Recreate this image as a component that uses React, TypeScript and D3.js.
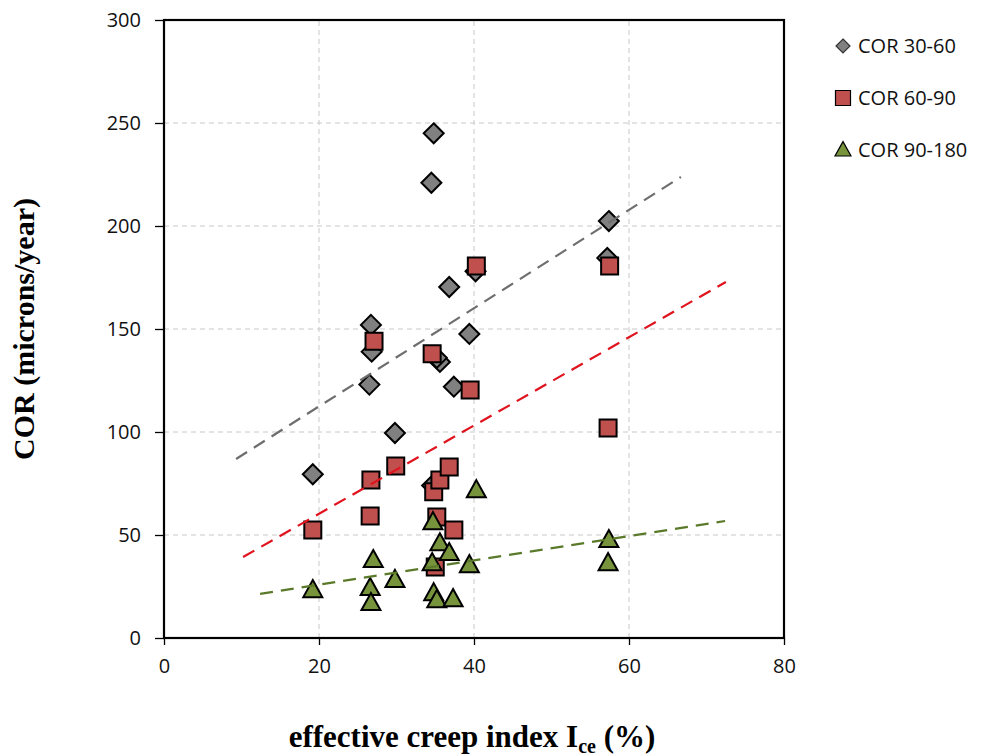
import React, { useEffect, useRef } from 'react';
import * as d3 from 'd3';

// COR 30-60 (grey diamonds)
const cor3060X = [19.2, 26.5, 26.7, 26.8, 29.8, 34.5, 34.8, 34.6, 35.6, 35.2, 36.8, 37.4, 39.4, 40.2, 57.2, 57.4];
const cor3060Y = [79.5, 123, 152, 139, 99.5, 221, 245, 74, 134, 136, 170.4, 122, 147.6, 178, 184.5, 202.4];

// COR 60-90 (red squares)
const cor6090X = [19.2, 26.6, 26.7, 27.1, 29.9, 34.6, 34.8, 35.0, 35.2, 35.6, 36.8, 37.4, 39.5, 40.3, 57.3, 57.5];
const cor6090Y = [52.4, 59.2, 76.7, 144, 83.5, 138, 71, 34.5, 58.7, 76.7, 83, 52.4, 120.4, 180.6, 101.9, 180.6];

// COR 90-180 (green triangles)
const cor90180X = [19.2, 26.6, 26.7, 27.0, 29.8, 34.6, 34.7, 34.8, 35.2, 35.6, 36.8, 37.3, 39.4, 40.3, 57.3, 57.4];
const cor90180Y = [23.3, 24.3, 17, 37.9, 28.2, 36.4, 56.3, 21.8, 18.4, 46, 41.3, 18.9, 35.4, 71.8, 36.4, 47.6];

// linear trend lines, [start, end]
const trend3060X = [9.3, 66.7];
const trend3060Y = [86.9, 223.8];
const trend6090X = [10.2, 72.5];
const trend6090Y = [39.3, 172.8];
const trend90180X = [12.4, 72.4];
const trend90180Y = [21.4, 56.8];

const xTicks = [0, 20, 40, 60, 80];
const yTicks = [0, 50, 100, 150, 200, 250, 300];

const seriesNames = ['COR 30-60', 'COR 60-90', 'COR 90-180'];

const W = 997, H = 756;
const margin = { left: 164, right: 213, top: 20, bottom: 118 };

function App() {
    const ref = useRef<SVGSVGElement>(null);

    useEffect(() => {
        const svg = d3.select(ref.current);
        svg.selectAll('*').remove();

        const x = d3.scaleLinear().domain([0, 80]).range([margin.left, W - margin.right]);
        const y = d3.scaleLinear().domain([0, 300]).range([H - margin.bottom, margin.top]);
        const tickFont = "'Open Sans', 'DejaVu Sans', sans-serif";
        const titleFont = "'Liberation Serif', 'DejaVu Serif', serif";

        // grid
        const grid = svg.append('g');
        grid.selectAll('.gx').data(xTicks.slice(1, -1)).join('line')
            .attr('x1', (d) => x(d)).attr('x2', (d) => x(d))
            .attr('y1', y(0)).attr('y2', y(300))
            .attr('stroke', '#c8c8c8').attr('stroke-width', 1).attr('stroke-dasharray', '5,4');
        grid.selectAll('.gy').data(yTicks.slice(1, -1)).join('line')
            .attr('y1', (d) => y(d)).attr('y2', (d) => y(d))
            .attr('x1', x(0)).attr('x2', x(80))
            .attr('stroke', '#c8c8c8').attr('stroke-width', 1).attr('stroke-dasharray', '5,4');

        // axes
        const xAxis = d3.axisBottom(x).tickValues(xTicks).tickSize(7).tickSizeOuter(0);
        const yAxis = d3.axisLeft(y).tickValues(yTicks).tickSize(9).tickSizeOuter(0);

        svg.append('g')
            .attr('transform', `translate(0, ${y(0)})`)
            .call(xAxis)
            .call((g) => g.select('.domain').remove())
            .call((g) => g.selectAll('line').attr('stroke', '#000').attr('stroke-width', 1.3))
            .selectAll('text')
                .attr('dy', '1.25em')
                .style('font-family', tickFont)
                .style('font-size', '20px')
                .attr('fill', '#111');

        svg.append('g')
            .attr('transform', `translate(${x(0)}, 0)`)
            .call(yAxis)
            .call((g) => g.select('.domain').remove())
            .call((g) => g.selectAll('line').attr('stroke', '#000').attr('stroke-width', 1.3))
            .selectAll('text')
                .attr('x', -23)
                .style('font-family', tickFont)
                .style('font-size', '20px')
                .attr('fill', '#111');

        // plot border
        svg.append('rect')
            .attr('x', x(0)).attr('y', y(300))
            .attr('width', x(80) - x(0)).attr('height', y(0) - y(300))
            .attr('fill', 'none').attr('stroke', '#000').attr('stroke-width', 2.2);

        const symDiamond = (cx: number, cy: number, r: number) =>
            `M${cx},${cy - r}L${cx + r},${cy}L${cx},${cy + r}L${cx - r},${cy}Z`;
        const symSquare = (cx: number, cy: number, r: number) =>
            `M${cx - r},${cy - r}h${2 * r}v${2 * r}h${-2 * r}Z`;
        const symTriangle = (cx: number, cy: number, r: number) =>
            `M${cx},${cy - r * 1.05}L${cx + r},${cy + r * 0.75}L${cx - r},${cy + r * 0.75}Z`;

        const series = [
            { xs: cor3060X, ys: cor3060Y, sym: symDiamond, r: 10, fill: '#808080' },
            { xs: cor6090X, ys: cor6090Y, sym: symSquare, r: 8.5, fill: '#c0504d' },
            { xs: cor90180X, ys: cor90180Y, sym: symTriangle, r: 9.5, fill: '#77933c' },
        ];

        series.forEach((s) => {
            svg.append('g').selectAll('path').data(s.xs.map((v, i) => [v, s.ys[i]]))
                .join('path')
                .attr('d', (d) => s.sym(x(d[0]), y(d[1]), s.r))
                .attr('fill', s.fill)
                .attr('stroke', '#000')
                .attr('stroke-width', 2)
                .attr('stroke-linejoin', 'miter');
        });

        // trend lines
        const trends = [
            { xs: trend3060X, ys: trend3060Y, color: '#6e6e6e' },
            { xs: trend6090X, ys: trend6090Y, color: '#e0141e' },
            { xs: trend90180X, ys: trend90180Y, color: '#5a7a2a' },
        ];
        const line = d3.line<number[]>().x((d) => x(d[0])).y((d) => y(d[1]));
        trends.forEach((t) => {
            svg.append('path')
                .datum(t.xs.map((v, i) => [v, t.ys[i]]))
                .attr('d', line)
                .attr('fill', 'none')
                .attr('stroke', t.color)
                .attr('stroke-width', 2.2)
                .attr('stroke-dasharray', '13,8');
        });

        // legend
        const legend = svg.append('g');
        const legY = [46, 98, 150];
        series.forEach((s, i) => {
            legend.append('path')
                .attr('d', s.sym(843, legY[i], i === 0 ? 7 : i === 1 ? 7.5 : 8))
                .attr('fill', s.fill)
                .attr('stroke', i === 0 ? '#333' : '#000')
                .attr('stroke-width', 1.2);
            legend.append('text')
                .attr('x', 858).attr('y', legY[i] + 7)
                .style('font-family', tickFont)
                .style('font-size', '20px')
                .attr('fill', '#111')
                .text(seriesNames[i]);
        });

        // axis titles
        svg.append('text')
            .attr('transform', `translate(34, ${(y(0) + y(300)) / 2}) rotate(-90)`)
            .attr('text-anchor', 'middle')
            .style('font-family', titleFont)
            .style('font-weight', 'bold')
            .style('font-size', '30px')
            .text('COR (microns/year)');

        const xt = svg.append('text')
            .attr('x', (x(0) + x(80)) / 2 - 2).attr('y', 747)
            .attr('text-anchor', 'middle')
            .style('font-family', titleFont)
            .style('font-weight', 'bold')
            .style('font-size', '31px');
        xt.append('tspan').text('effective creep index I');
        xt.append('tspan').attr('dy', 6).style('font-size', '20px').text('ce');
        xt.append('tspan').attr('dy', -6).text(' (%)');
    }, []);

    return (
        <svg ref={ref} width={W} height={H}
            style={{ position: 'absolute', left: 0, top: 0, background: '#fff' }}></svg>
    );
}

export default App;
